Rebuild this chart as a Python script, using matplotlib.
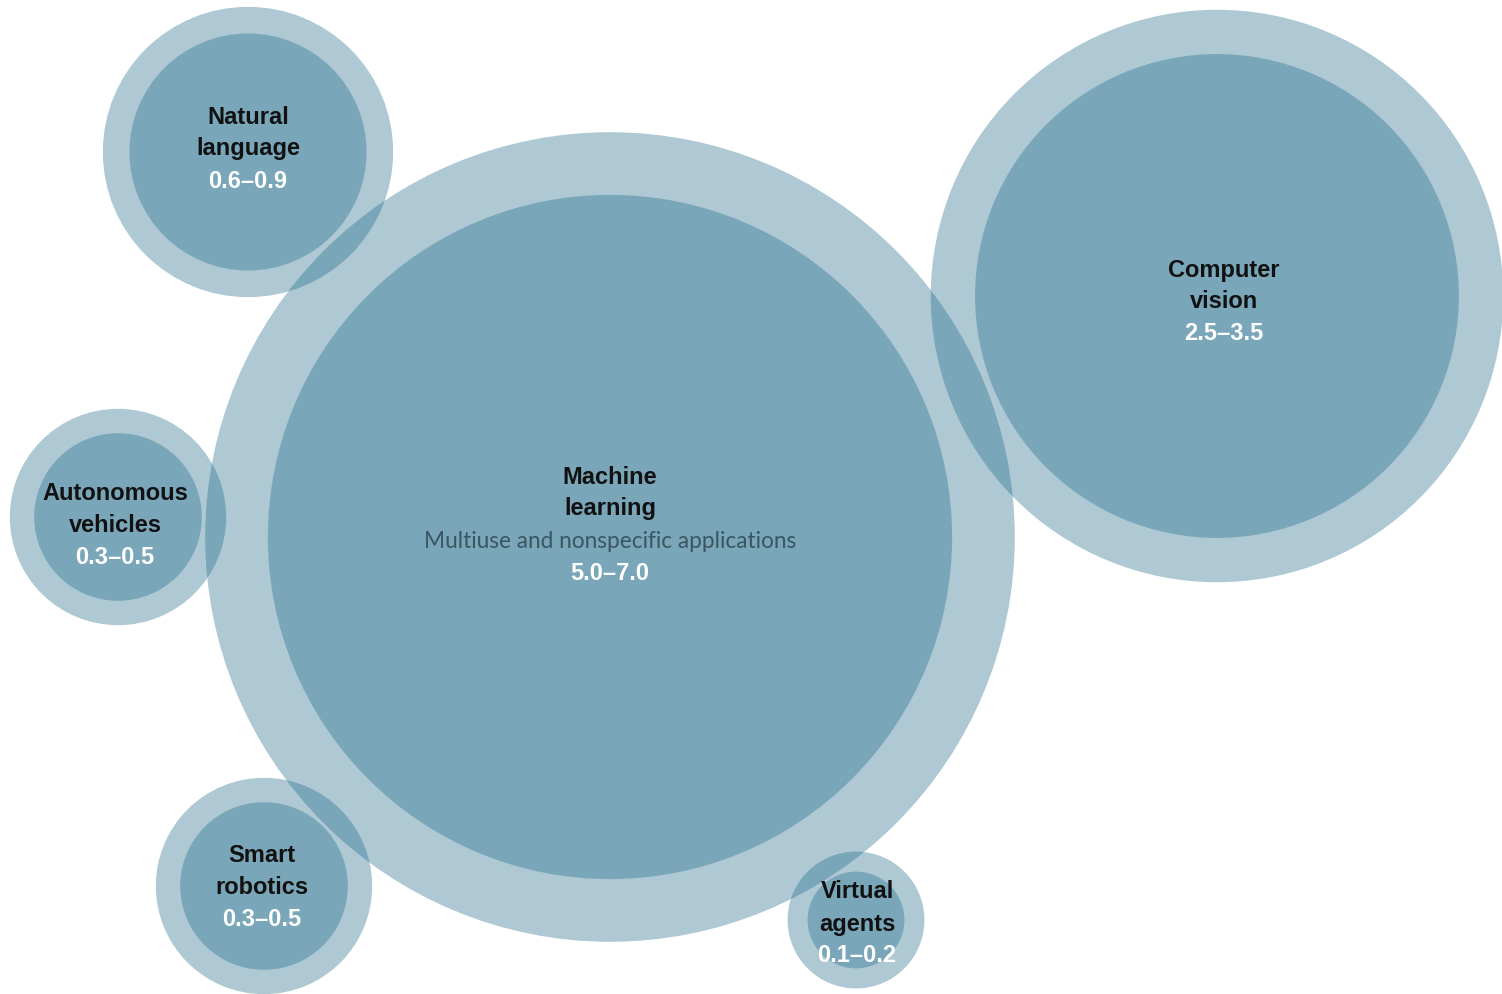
import matplotlib.pyplot as plt
from matplotlib.patches import Circle
import numpy as np

# estimated value ranges per technology
names = ["Machine\nlearning", "Computer\nvision", "Natural\nlanguage",
         "Autonomous\nvehicles", "Smart\nrobotics", "Virtual\nagents"]
low = [5.0, 2.5, 0.6, 0.3, 0.3, 0.1]
high = [7.0, 3.5, 0.9, 0.5, 0.5, 0.2]
subtitles = ["Multiuse and nonspecific applications", "", "", "", "", ""]

# layout (pixel coordinates, y down)
centers = [(610, 537), (1217, 296), (248, 152), (118, 517), (264, 886), (856, 920)]
text_x = [610, 1224, 248, 115, 262, 857]
text_y = [525, 302, 149, 525, 887, 924]
scale = 153.0
pitch = 32

fill = "#186584"
alpha = 0.35

fig = plt.figure(figsize=(15.02, 9.94), dpi=100)
ax = fig.add_axes([0, 0, 1, 1])
ax.set_xlim(0, 1502)
ax.set_ylim(994, 0)
ax.set_aspect("equal")
ax.axis("off")

for (cx, cy), lo, hi in zip(centers, low, high):
    ax.add_patch(Circle((cx, cy), scale * np.sqrt(hi), color=fill, alpha=alpha, lw=0))
    ax.add_patch(Circle((cx, cy), scale * np.sqrt(lo), color=fill, alpha=alpha, lw=0))

for tx, ty, name, sub, lo, hi in zip(text_x, text_y, names, subtitles, low, high):
    lines = name.split("\n")
    n = len(lines) + 1 + (1 if sub else 0)
    y = ty - pitch * (n - 1) / 2
    for ln in lines:
        ax.text(tx, y, ln, ha="center", va="center", fontsize=17,
                fontweight="bold", family="Liberation Sans", color="#111111")
        y += pitch
    if sub:
        ax.text(tx, y, sub, ha="center", va="center", fontsize=16.3,
                fontweight="normal", family="Lato", color="#3a5662")
        y += pitch
    ax.text(tx, y, f"{lo:.1f}\u2013{hi:.1f}", ha="center", va="center", fontsize=17,
            fontweight="bold", family="Liberation Sans", color="white")

fig.savefig("out.png", dpi=100, facecolor="white")
